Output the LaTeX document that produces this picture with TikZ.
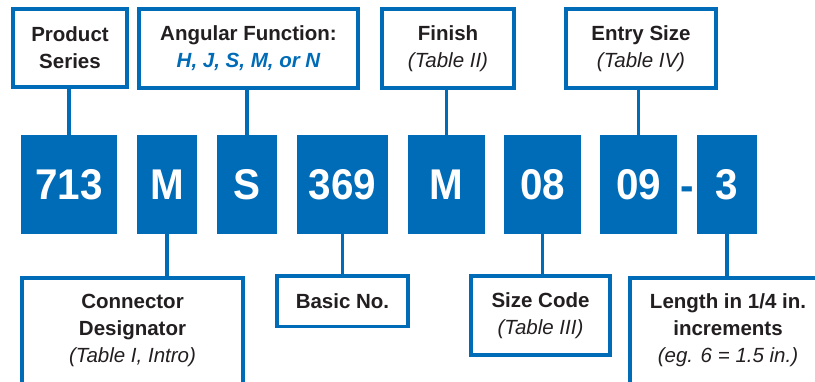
\documentclass[tikz,border=0pt]{standalone}
\usepackage{fontspec}
\setmainfont{Liberation Sans}
\newfontfamily\digitfont[FakeStretch=0.94]{Liberation Sans}
\definecolor{codeblue}{RGB}{0,108,183}
\definecolor{textgray}{RGB}{35,31,32}

\begin{document}
\begin{tikzpicture}[x=1pt,y=-1pt]
\tikzset{codebox/.style = {fill=codeblue,text=white,minimum height=99pt,inner sep=0pt,font=\digitfont\fontsize{43}{43}\selectfont\bfseries},
         infobox/.style = {draw=codeblue,line width=3.8pt,fill=white,align=center,text=textgray,inner sep=0pt,font=\fontsize{20.5}{27}\selectfont\bfseries},
         link/.style = {draw=codeblue,line width=3.8pt}}
\clip (0,0) rectangle (815,381);
% code boxes
\foreach \x/\w/\name/\txt in {69/96/series/713,167/60/desig/M,247/60/angle/S,342.5/91/basic/369,446.5/77/finish/M,542.5/77/size/08,638.5/77/entry/09,727/60/length/3} {
    \node[codebox,minimum width=\w pt] (\name) at (\x,184.5) {\txt};
}
\node[anchor=base,text=codeblue,inner sep=0pt,font=\digitfont\fontsize{43}{43}\selectfont\bfseries] (dash) at (687.5,200) {-};
% top boxes
\node[infobox,minimum width=114.5pt,minimum height=78.5pt] (seriesinfo) at (70,48) {Product\\Series};
\node[infobox,minimum width=219.5pt,minimum height=79.5pt] (angleinfo) at (248.5,48.5) {Angular Function:\\{\color{codeblue}\itshape H, J, S, M, or N}};
\node[infobox,minimum width=132.5pt,minimum height=79.5pt] (finishinfo) at (448,48.5) {Finish\\{\mdseries\itshape (Table II)}};
\node[infobox,minimum width=150.5pt,minimum height=79.5pt] (entryinfo) at (641,48.5) {Entry Size\\{\mdseries\itshape (Table IV)}};
% bottom boxes
\node[infobox,anchor=north,minimum width=221.5pt,inner ysep=16pt,text depth=40pt] (desiginfo) at (132.5,275.9) {Connector\\Designator\\{\mdseries\itshape (Table I, Intro)}};
\node[infobox,minimum width=131.5pt,minimum height=50.5pt] (basicinfo) at (342.5,301.3) {Basic No.};
\node[infobox,minimum width=139.5pt,minimum height=79.5pt] (sizeinfo) at (540.5,315.5) {Size Code\\{\mdseries\itshape (Table III)}};
\node[infobox,anchor=north,minimum width=196pt,inner ysep=16pt,text depth=40pt] (lengthinfo) at (728,275.9) {Length in 1/4 in.\\increments\\{\mdseries\itshape (eg. 6 = 1.5 in.)}};
% links
\foreach \a/\b in {series/seriesinfo,angle/angleinfo,finish/finishinfo,entry/entryinfo} {
    \draw[link] (\a.north) -- (\a.north |- \b.south);
}
\foreach \a/\b in {desig/desiginfo,basic/basicinfo,size/sizeinfo,length/lengthinfo} {
    \draw[link] (\a.south) -- (\a.south |- \b.north);
}
\end{tikzpicture}
\end{document}
